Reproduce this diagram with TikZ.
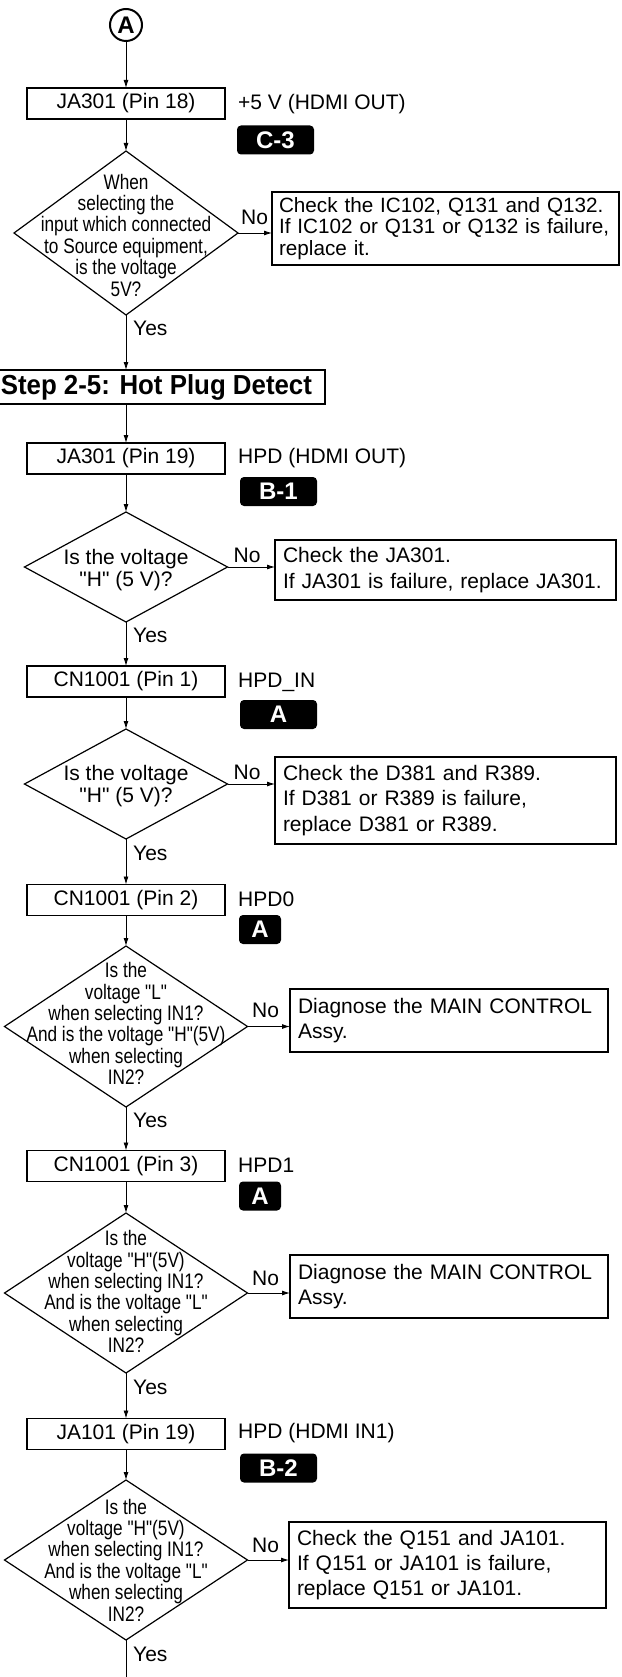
\documentclass[tikz,border=0pt]{standalone}
\usepackage{fontspec}
\setmainfont{Liberation Sans}
\newfontfamily\narrowfont[FakeStretch=0.82]{Liberation Sans}
\newfontfamily\qfont{Liberation Sans}
\newfontfamily\stepfont[FakeStretch=0.94]{Liberation Sans}
\usetikzlibrary{shapes.geometric,arrows.meta,calc}
\tikzset{
  pinbox/.style={draw, line width=1.6pt, minimum width=198pt, minimum height=31pt, inner sep=0pt, outer sep=0pt, font=\fontsize{21}{24}\selectfont},
  checkbox/.style={draw, line width=1.6pt, inner xsep=8pt, inner ysep=0pt, outer sep=0pt, align=left},
  dec/.style={draw, diamond, line width=1.2pt, inner sep=0pt, outer sep=0pt},
  qtext/.style={align=center, font=\narrowfont\fontsize{21}{21.4}\selectfont, inner sep=0pt},
  qwide/.style={align=center, font=\qfont\fontsize{21}{22}\selectfont, inner sep=0pt},
  sidelabel/.style={anchor=west, font=\fontsize{21}{24}\selectfont, inner sep=0pt},
  badge/.style={fill=black, text=white, rounded corners=4pt, minimum height=29pt, inner sep=0pt, font=\bfseries\fontsize{24}{24}\selectfont},
  stepbox/.style={draw, line width=1.8pt, inner xsep=13pt, inner ysep=0pt, minimum height=34pt, outer sep=0pt, font=\stepfont\bfseries\fontsize{27.5}{29}\selectfont},
  flow/.style={line width=0.9pt, -{Latex[length=8pt,width=5pt]}},
  yn/.style={font=\fontsize{21}{24}\selectfont, inner sep=0pt, anchor=west},
}
\begin{document}
\begin{tikzpicture}[x=1pt,y=-1pt]
\useasboundingbox (0,0) rectangle (621,1677);

% start
\node[circle, draw, line width=2pt, minimum size=32pt, inner sep=0pt, outer sep=0pt, font=\bfseries\fontsize{24}{24}\selectfont] (A) at (126,25) {A};

% pin boxes
\node[pinbox] (p1) at (126,103.5) {JA301 (Pin 18)};
\node[pinbox] (p2) at (126,458.5) {JA301 (Pin 19)};
\node[pinbox] (p3) at (126,681.5) {CN1001 (Pin 1)};
\node[pinbox] (p4) at (126,900) {CN1001 (Pin 2)};
\node[pinbox] (p5) at (126,1166) {CN1001 (Pin 3)};
\node[pinbox] (p6) at (126,1434) {JA101 (Pin 19)};

% side labels
\node[sidelabel] (l1) at (238,104) {+5 V (HDMI OUT)};
\node[sidelabel] (l2) at (238,458) {HPD (HDMI OUT)};
\node[sidelabel] (l3) at (238,682) {HPD\_IN};
\node[sidelabel] (l4) at (238,899) {HPD0};
\node[sidelabel] (l5) at (238,1165) {HPD1};
\node[sidelabel] (l6) at (238,1433) {HPD (HDMI IN1)};

% badges
\node[badge, minimum width=77pt] (b1) at (275.5,140) {C-3};
\node[badge, minimum width=77pt] (b2) at (278.5,491.5) {B-1};
\node[badge, minimum width=77pt] (b3) at (278.5,714.5) {A};
\node[badge, minimum width=42pt] (b4) at (260,929.5) {A};
\node[badge, minimum width=42pt] (b5) at (260,1196) {A};
\node[badge, minimum width=77pt] (b6) at (278.5,1468) {B-2};

% step title
\node[stepbox, anchor=east] (step) at (325,387) {Step 2-5: Hot Plug Detect};

% diamonds
\node[dec, minimum width=224pt, minimum height=164pt] (d1) at (126,233) {};
\node[dec, minimum width=203pt, minimum height=110pt] (d2) at (126,567) {};
\node[dec, minimum width=203pt, minimum height=110pt] (d3) at (126,784) {};
\node[dec, minimum width=243pt, minimum height=161pt] (d4) at (126,1026.5) {};
\node[dec, minimum width=243pt, minimum height=160pt] (d5) at (126,1293) {};
\node[dec, minimum width=243pt, minimum height=160pt] (d6) at (126,1560) {};

\node[qtext] (t1) at ($(d1)+(0,2)$) {When\\selecting the\\input which connected\\to Source equipment,\\is the voltage\\5V?};
\node[qwide] (t2) at ($(d2)+(0,3)$) {Is the voltage\\"H" (5 V)?};
\node[qwide] (t3) at ($(d3)+(0,2.5)$) {Is the voltage\\"H" (5 V)?};
\node[qtext] (t4) at ($(d4)+(0,-3)$) {Is the\\voltage "L"\\when selecting IN1?\\And is the voltage "H"(5V)\\when selecting\\IN2?};
\node[qtext] (t5) at ($(d5)+(0,-1.5)$) {Is the\\voltage "H"(5V)\\when selecting IN1?\\And is the voltage "L"\\when selecting\\IN2?};
\node[qtext] (t6) at ($(d6)+(0,0)$) {Is the\\voltage "H"(5V)\\when selecting IN1?\\And is the voltage "L"\\when selecting\\IN2?};

% check boxes
\node[checkbox, inner xsep=7pt, text width=333pt, minimum height=73pt, font=\fontsize{20.7}{21.8}\selectfont] (c1) at (445.5,228.5) {\mbox{Check the IC102, Q131 and Q132.}\\\mbox{If IC102 or Q131 or Q132 is failure,}\\\mbox{replace it.}};
\node[checkbox, text width=325pt, minimum height=60pt, font=\fontsize{21}{25.5}\selectfont] (c2) at (445.5,570) {\mbox{Check the JA301.}\\\mbox{If JA301 is failure, replace JA301.}};
\node[checkbox, text width=325pt, minimum height=87pt, font=\fontsize{21}{25.5}\selectfont] (c3) at (445.5,800.5) {\mbox{Check the D381 and R389.}\\\mbox{If D381 or R389 is failure,}\\\mbox{replace D381 or R389.}};
\node[checkbox, text width=302pt, minimum height=63pt, font=\fontsize{21}{24.5}\selectfont] (c4) at (449,1020.5) {\mbox{Diagnose the MAIN CONTROL}\\Assy.};
\node[checkbox, text width=302pt, minimum height=63pt, font=\fontsize{21}{24.5}\selectfont] (c5) at (449,1286.5) {\mbox{Diagnose the MAIN CONTROL}\\Assy.};
\node[checkbox, text width=301pt, minimum height=86pt, font=\fontsize{21}{25}\selectfont] (c6) at (447.5,1565) {\mbox{Check the Q151 and JA101.}\\\mbox{If Q151 or JA101 is failure,}\\\mbox{replace Q151 or JA101.}};

% yes / no labels
\node[yn] (y1) at ($(d1.south)+(7,13.5)$) {Yes};
\node[yn] (y2) at ($(d2.south)+(7,13.5)$) {Yes};
\node[yn] (y3) at ($(d3.south)+(7,14)$) {Yes};
\node[yn] (y4) at ($(d4.south)+(7,13.5)$) {Yes};
\node[yn] (y5) at ($(d5.south)+(7,14)$) {Yes};
\node[yn] (y6) at ($(d6.south)+(7,14)$) {Yes};
\node[yn] (n1) at ($(d1.east)+(3,-16)$) {No};
\node[yn] (n2) at ($(d2.east)+(6,-12)$) {No};
\node[yn] (n3) at ($(d3.east)+(6,-12)$) {No};
\node[yn] (n4) at ($(d4.east)+(4.5,-16.5)$) {No};
\node[yn] (n5) at ($(d5.east)+(4.5,-15)$) {No};
\node[yn] (n6) at ($(d6.east)+(4.5,-15)$) {No};

% main flow
\draw[flow] (A.south) -- (p1.north);
\draw[flow] (p1.south) -- (d1.north);
\draw[flow] (d1.south) -- (d1.south |- step.north);
\draw[flow] (p2.north |- step.south) -- (p2.north);
\draw[flow] (p2.south) -- (d2.north);
\draw[flow] (d2.south) -- (p3.north);
\draw[flow] (p3.south) -- (d3.north);
\draw[flow] (d3.south) -- (p4.north);
\draw[flow] (p4.south) -- (d4.north);
\draw[flow] (d4.south) -- (p5.north);
\draw[flow] (p5.south) -- (d5.north);
\draw[flow] (d5.south) -- (p6.north);
\draw[flow] (p6.south) -- (d6.north);
\coordinate (end) at (126,1690);
\draw[line width=0.9pt] (d6.south) -- (end);

% no branches
\draw[flow] (d1.east) -- (d1.east -| c1.west);
\draw[flow] (d2.east) -- (d2.east -| c2.west);
\draw[flow] (d3.east) -- (d3.east -| c3.west);
\draw[flow] (d4.east) -- (d4.east -| c4.west);
\draw[flow] (d5.east) -- (d5.east -| c5.west);
\draw[flow] (d6.east) -- (d6.east -| c6.west);
\end{tikzpicture}
\end{document}
